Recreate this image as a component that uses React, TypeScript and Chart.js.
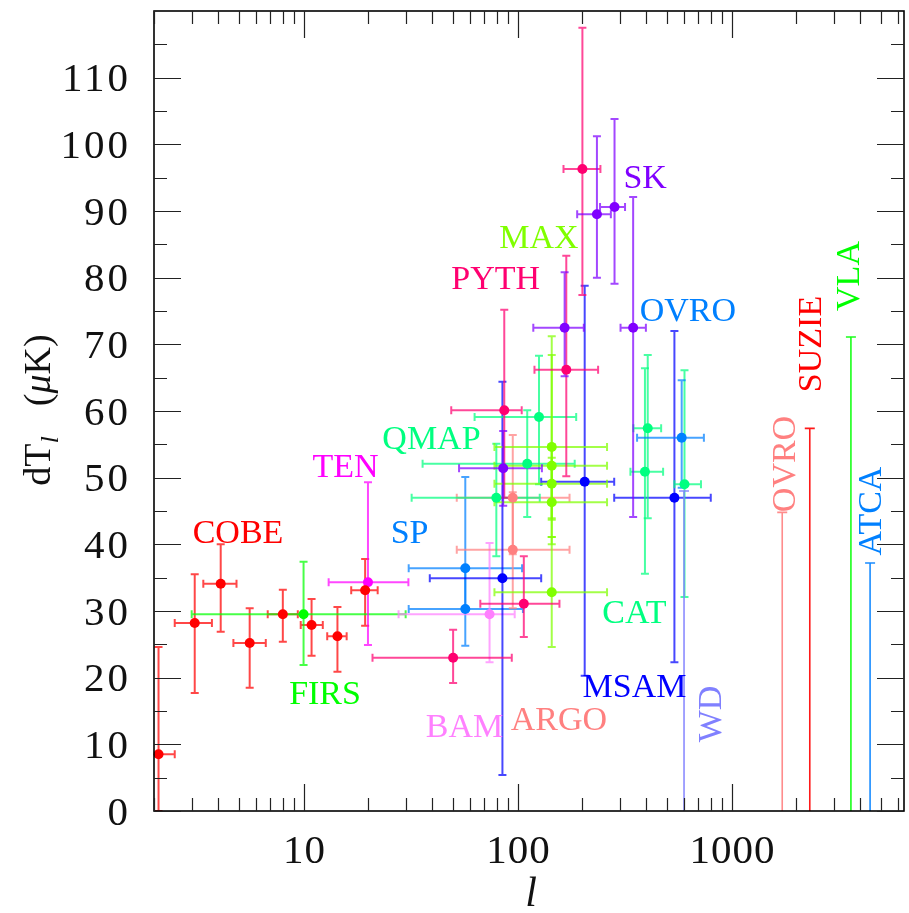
import { useEffect, useRef } from 'react';
import { Chart, registerables } from 'chart.js';

Chart.register(...registerables);

// Each row: [l, dT, l low, l high, dT low, dT high]
type Row = [number, number, number, number, number, number];

const COBE: Row[] = [
  [2.1, 8.5, 1.8, 2.5, 0, 24.6],
  [3.1, 28.2, 2.5, 3.73, 17.7, 35.5],
  [4.1, 34.1, 3.4, 4.86, 26.9, 40.0],
  [5.6, 25.2, 4.7, 6.66, 18.5, 30.4],
  [8.0, 29.5, 6.8, 9.4, 25.4, 33.2],
  [10.9, 27.9, 9.7, 12.3, 23.3, 31.8],
  [14.4, 26.2, 12.9, 15.9, 20.9, 30.6],
  [19.4, 33.1, 16.7, 22.2, 27.8, 37.8],
];
const FIRS: Row[] = [[10, 29.5, 3, 30, 21.9, 37.4]];
const TEN: Row[] = [[20, 34.3, 13.1, 30.9, 24.9, 49.3]];
const SP: Row[] = [
  [57, 36.4, 31, 105, 30.4, 50.1],
  [57, 30.3, 31, 106, 24.8, 36.4],
];
const BAM: Row[] = [[74, 29.5, 27.8, 97, 22.3, 40.2]];
const ARGO: Row[] = [
  [95, 39.2, 52, 175, 30.4, 47.8],
  [95, 47.0, 52, 175, 38.5, 56.4],
];
const MSAM: Row[] = [
  [85, 34.9, 38.9, 129, 5.4, 64.4],
  [206, 49.4, 129, 283, 20.3, 78.8],
  [541, 47.0, 283, 800, 22.3, 72.0],
];
const PYTH: Row[] = [
  [201, 96.3, 164, 244, 77.4, 117.5],
  [169, 66.2, 120, 238, 50.2, 83.3],
  [86.7, 60.1, 49, 104.6, 47.0, 75.2],
  [107, 31.1, 67, 157, 26.1, 38.2],
  [50, 23.0, 21, 94, 19.2, 27.2],
];
const SK: Row[] = [
  [235, 89.5, 190, 273, 80.0, 101.2],
  [284, 90.6, 243, 318, 79.1, 103.8],
  [347, 72.5, 303, 398, 44.1, 92.1],
  [166, 72.5, 118.5, 204, 65.2, 80.8],
  [85.7, 51.4, 53.3, 130, 45.8, 57.0],
];
const MAX: Row[] = [
  [144.5, 54.6, 78, 262, 43.9, 68.4],
  [144.5, 51.8, 78, 262, 41.1, 71.2],
  [144.5, 49.1, 78, 262, 43.7, 55.0],
  [144.5, 46.3, 78, 262, 40.0, 53.0],
  [144.5, 32.8, 78, 262, 24.6, 41.1],
];
const QMAP: Row[] = [
  [126, 59.1, 63, 188, 49.0, 68.3],
  [111, 52.1, 36, 185, 44.1, 60.1],
  [79.6, 47.0, 32, 127, 38.2, 55.1],
];
const CAT: Row[] = [
  [406, 57.4, 348, 469, 43.9, 68.4],
  [394, 50.9, 337, 479, 35.6, 66.4],
  [603, 49.0, 541, 720, 32.1, 66.1],
];
const OVRO: Row[] = [[585, 56.0, 362, 743, 48.5, 64.6]];

// Upper limits: multipole and dT limit
const LIMIT_NAMES = ['WD', 'OVRO_SZ', 'SUZIE', 'VLA', 'ATCA'];
const LIMIT_L = [600, 1726, 2322, 3615, 4443];
const LIMIT_DT = [48, 44.8, 57.4, 71.1, 37.2];

// Axis ticks
const Y_TICKS = [0, 10, 20, 30, 40, 50, 60, 70, 80, 90, 100, 110];
const Y_MINOR = [5, 15, 25, 35, 45, 55, 65, 75, 85, 95, 105, 115];
const X_TICKS = [10, 100, 1000];
const X_MINOR = [2, 3, 4, 5, 6, 7, 8, 9, 20, 30, 40, 50, 60, 70, 80, 90, 200, 300, 400, 500, 600, 700, 800, 900, 2000, 3000, 4000, 5000, 6000];

const COLORS: Record<string, string> = {
  COBE: '#ff0000', FIRS: '#00ff00', TEN: '#ff00ff', SP: '#0080ff', BAM: '#ff80ff',
  ARGO: '#ff8080', MSAM: '#0000ff', PYTH: '#ff0070', SK: '#8000ff', MAX: '#80ff00',
  QMAP: '#00ff80', CAT: '#00ff80', OVRO: '#0080ff', WD: '#8080ff', OVRO_SZ: '#ff8080',
  SUZIE: '#ff0000', VLA: '#00ff00', ATCA: '#0080ff',
};

const EXPERIMENTS: [string, Row[]][] = [
  ['COBE', COBE], ['FIRS', FIRS], ['TEN', TEN], ['SP', SP], ['BAM', BAM], ['ARGO', ARGO],
  ['MSAM', MSAM], ['QMAP', QMAP], ['MAX', MAX], ['CAT', CAT], ['OVRO', OVRO], ['PYTH', PYTH], ['SK', SK],
];

// Experiment labels: text, anchor l, anchor dT, colour key, vertical
const LABELS: [string, number, number, string, boolean][] = [
  ['COBE', 4.94, 42.0, 'COBE', false],
  ['FIRS', 12.6, 17.85, 'FIRS', false],
  ['TEN', 15.7, 51.9, 'TEN', false],
  ['SP', 31.3, 42.0, 'SP', false],
  ['QMAP', 39.6, 56.0, 'QMAP', false],
  ['PYTH', 79.1, 80.1, 'PYTH', false],
  ['MAX', 126, 86.2, 'MAX', false],
  ['SK', 395, 95.25, 'SK', false],
  ['OVRO', 625, 75.3, 'OVRO', false],
  ['CAT', 352, 30.0, 'CAT', false],
  ['MSAM', 352, 18.9, 'MSAM', false],
  ['BAM', 56.5, 12.8, 'BAM', false],
  ['ARGO', 156, 13.95, 'ARGO', false],
  ['WD', 787, 14.55, 'WD', true],
  ['OVRO', 1754, 52.05, 'OVRO_SZ', true],
  ['SUZIE', 2306, 70.05, 'SUZIE', true],
  ['VLA', 3483, 80.25, 'VLA', true],
  ['ATCA', 4418, 45.0, 'ATCA', true],
];

const SERIF = '"Liberation Serif", "Times New Roman", serif';

const errorBars = {
  id: 'errorBars',
  beforeDatasetsDraw(chart: any) {
    const { ctx, chartArea, scales } = chart;
    const x = scales.x;
    const y = scales.y;
    ctx.save();
    ctx.beginPath();
    ctx.rect(chartArea.left, chartArea.top, chartArea.width, chartArea.height);
    ctx.clip();
    ctx.lineWidth = 2;
    ctx.globalAlpha = 0.72;
    const cap = 4;
    for (const [key, rows] of EXPERIMENTS) {
      ctx.strokeStyle = COLORS[key];
      for (const [l, dT, lLo, lHi, dLo, dHi] of rows) {
        const px = x.getPixelForValue(l);
        const py = y.getPixelForValue(dT);
        const x0 = x.getPixelForValue(lLo);
        const x1 = x.getPixelForValue(lHi);
        const y0 = y.getPixelForValue(dLo);
        const y1 = y.getPixelForValue(dHi);
        ctx.beginPath();
        ctx.moveTo(px, y0); ctx.lineTo(px, y1);
        ctx.moveTo(px - cap, y0); ctx.lineTo(px + cap, y0);
        ctx.moveTo(px - cap, y1); ctx.lineTo(px + cap, y1);
        ctx.moveTo(x0, py); ctx.lineTo(x1, py);
        ctx.moveTo(x0, py - cap); ctx.lineTo(x0, py + cap);
        ctx.moveTo(x1, py - cap); ctx.lineTo(x1, py + cap);
        ctx.stroke();
      }
    }
    ctx.lineWidth = 1.6;
    ctx.globalAlpha = 0.9;
    LIMIT_NAMES.forEach((name, i) => {
      const px = x.getPixelForValue(LIMIT_L[i]);
      const yb = y.getPixelForValue(0);
      const yt = y.getPixelForValue(LIMIT_DT[i]);
      ctx.strokeStyle = COLORS[name];
      ctx.beginPath();
      ctx.moveTo(px, yb); ctx.lineTo(px, yt);
      ctx.moveTo(px - cap - 1, yt); ctx.lineTo(px + cap + 1, yt);
      ctx.stroke();
    });
    ctx.restore();
  },
};

const frameAndText = {
  id: 'frameAndText',
  afterDraw(chart: any) {
    const { ctx, chartArea, scales } = chart;
    const x = scales.x;
    const y = scales.y;
    const { left, right, top, bottom } = chartArea;
    ctx.save();

    // experiment labels
    for (const [text, l, dT, key, vertical] of LABELS) {
      const px = x.getPixelForValue(l);
      const py = y.getPixelForValue(dT);
      ctx.save();
      ctx.fillStyle = COLORS[key];
      ctx.font = `34px ${SERIF}`;
      ctx.textAlign = 'center';
      ctx.textBaseline = 'alphabetic';
      ctx.translate(px, py);
      if (vertical) ctx.rotate(-Math.PI / 2);
      ctx.fillText(text, 0, 11.5);
      ctx.restore();
    }

    // frame
    ctx.strokeStyle = '#000';
    ctx.lineWidth = 1.6;
    ctx.strokeRect(left, top, right - left, bottom - top);

    // inward ticks on all four sides
    ctx.lineWidth = 1.2;
    ctx.strokeStyle = '#222';
    const major = 27;
    const minor = 13;
    ctx.beginPath();
    for (const v of Y_TICKS.concat(Y_MINOR)) {
      const len = Y_TICKS.includes(v) ? major : minor;
      const py = Math.round(y.getPixelForValue(v)) + 0.5;
      ctx.moveTo(left, py); ctx.lineTo(left + len, py);
      ctx.moveTo(right, py); ctx.lineTo(right - len, py);
    }
    for (const v of X_TICKS.concat(X_MINOR)) {
      const len = X_TICKS.includes(v) ? major : minor;
      const px = Math.round(x.getPixelForValue(v)) + 0.5;
      ctx.moveTo(px, bottom); ctx.lineTo(px, bottom - len);
      ctx.moveTo(px, top); ctx.lineTo(px, top + len);
    }
    ctx.stroke();

    // tick labels
    ctx.fillStyle = '#111';
    ctx.font = `41px ${SERIF}`;
    (ctx as any).letterSpacing = '3px';
    ctx.textBaseline = 'alphabetic';
    ctx.textAlign = 'right';
    for (const v of Y_TICKS) {
      ctx.fillText(String(v), 131, y.getPixelForValue(v) + 13.5);
    }
    (ctx as any).letterSpacing = '1px';
    ctx.textAlign = 'center';
    for (const v of X_TICKS) {
      ctx.fillText(String(v), x.getPixelForValue(v) + 1, 863);
    }
    (ctx as any).letterSpacing = '0px';

    // x axis title
    ctx.font = `italic 42px ${SERIF}`;
    ctx.fillText('l', 531, 906);

    // y axis title: dT_l (μK)
    ctx.save();
    ctx.translate(50, 410);
    ctx.rotate(-Math.PI / 2);
    ctx.textAlign = 'left';
    const parts: [string, string, number][] = [
      ['dT', `38px ${SERIF}`, 0],
      ['l', `italic 26px ${SERIF}`, 8],
      ['\u2003', `30px ${SERIF}`, 0],
      ['(', `38px ${SERIF}`, 0],
      ['\u03bc', `italic 38px ${SERIF}`, 0],
      ['K)', `38px ${SERIF}`, 0],
    ];
    let total = 0;
    for (const [t, f] of parts) { ctx.font = f; total += ctx.measureText(t).width; }
    let cx = -total / 2;
    for (const [t, f, dy] of parts) {
      ctx.font = f;
      ctx.fillText(t, cx, dy);
      cx += ctx.measureText(t).width;
    }
    ctx.restore();

    ctx.restore();
  },
};

export default function App() {
  const ref = useRef<HTMLCanvasElement>(null);
  useEffect(() => {
    const canvas = ref.current;
    if (!canvas) return;
    const datasets = EXPERIMENTS.map(([key, rows]) => ({
      label: key,
      data: rows.map((r) => ({ x: r[0], y: r[1] })),
      pointRadius: 5,
      pointHoverRadius: 5,
      pointBackgroundColor: COLORS[key],
      pointBorderWidth: 0,
      showLine: false,
      clip: 8,
    }));
    const chart = new Chart(canvas, {
      type: 'scatter',
      data: { datasets },
      options: {
        responsive: false,
        maintainAspectRatio: false,
        devicePixelRatio: 1,
        animation: false,
        events: [],
        layout: { padding: { left: 154, right: 1, top: 11, bottom: 102 } },
        plugins: { legend: { display: false }, tooltip: { enabled: false } },
        scales: {
          x: { type: 'logarithmic', min: 2, max: 6400, display: false },
          y: { type: 'linear', min: 0, max: 120, display: false },
        },
      },
      plugins: [errorBars, frameAndText],
    });
    return () => chart.destroy();
  }, []);
  return (
    <canvas
      ref={ref}
      width={909}
      height={913}
      style={{ position: 'absolute', left: 0, top: 0, display: 'block', background: '#fff' }}
    />
  );
}
